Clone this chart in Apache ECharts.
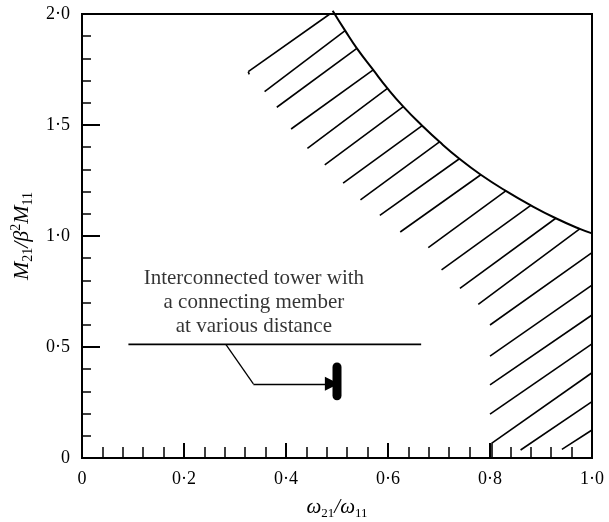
<!DOCTYPE html>
<html>
<head>
<meta charset="utf-8">
<script src="https://cdn.jsdelivr.net/npm/echarts@6/dist/echarts.min.js"></script>
<style>
html,body{margin:0;padding:0;background:#fff;}
#chart{width:609px;height:522px;}
</style>
</head>
<body>
<div id="chart"></div>
<script>
// ---- data ----
const xTickValues = [0, 0.2, 0.4, 0.6, 0.8, 1.0];
const xTickLabels = ['0', '0·2', '0·4', '0·6', '0·8', '1·0'];
const yTickValues = [0, 0.5, 1.0, 1.5, 2.0];
const yTickLabels = ['0', '0·5', '1·0', '1·5', '2·0'];

// boundary curve of the hatched region
const boundaryX = [0.4915, 0.516, 0.539, 0.571, 0.599, 0.630, 0.667, 0.701, 0.740, 0.782, 0.831, 0.880, 0.929, 0.976, 1.0];
const boundaryY = [2.015, 1.925, 1.845, 1.748, 1.665, 1.583, 1.497, 1.424, 1.348, 1.276, 1.203, 1.138, 1.080, 1.032, 1.012];

// hatch segments (from -> to)
const hatchFromX = [0.486, 0.516, 0.539, 0.571, 0.599, 0.630, 0.667, 0.701, 0.740, 0.782, 0.831, 0.880, 0.929, 0.976, 1.0, 1.0, 1.0, 1.0, 1.0, 1.0, 1.0, 0.803, 0.326];
const hatchFromY = [2.000, 1.925, 1.845, 1.748, 1.665, 1.583, 1.497, 1.424, 1.348, 1.276, 1.203, 1.138, 1.080, 1.032, 0.925, 0.779, 0.644, 0.514, 0.384, 0.254, 0.126, 0.066, 1.740];
const hatchToX   = [0.326, 0.358, 0.382, 0.410, 0.442, 0.476, 0.512, 0.546, 0.584, 0.624, 0.679, 0.705, 0.741, 0.777, 0.8, 0.8, 0.8, 0.8, 0.803, 0.860, 0.941, 0.803, 0.328];
const hatchToY   = [1.740, 1.650, 1.580, 1.482, 1.395, 1.320, 1.238, 1.163, 1.093, 1.018, 0.948, 0.847, 0.764, 0.692, 0.599, 0.459, 0.329, 0.198, 0.066, 0.036, 0.039, 0.0, 1.728];

// annotation
const annotationLines = ['Interconnected tower with', 'a connecting member', 'at various distance'];
const annotationPos = [0.337, 0.700];
const underlineX = [0.091, 0.665];
const underlineY = [0.512, 0.512];
const leaderX = [0.282, 0.336, 0.490];
const leaderY = [0.512, 0.334, 0.334];
const memberX = [0.5, 0.5];
const memberY = [0.41, 0.28];

// ---- build ----
const serif = '"Liberation Serif", "DejaVu Serif", serif';
function zip(xs, ys) { return xs.map((x, i) => [x, ys[i]]); }
function tickLabel(vals, labels) {
  return function (v) {
    for (let i = 0; i < vals.length; i++) if (Math.abs(vals[i] - v) < 1e-9) return labels[i];
    return '';
  };
}
const hatchData = hatchFromX.map((x, i) => ({ coords: [[x, hatchFromY[i]], [hatchToX[i], hatchToY[i]]] }));
const leaderPts = zip(leaderX, leaderY);

const chart = echarts.init(document.getElementById('chart'), null, { renderer: 'canvas' });
chart.setOption({
  animation: false,
  backgroundColor: '#fff',
  grid: {
    left: 82, right: 17, top: 14, bottom: 64,
    show: true, borderColor: '#000', borderWidth: 2,
    containLabel: false, outerBoundsMode: 'none'
  },
  xAxis: {
    type: 'value', min: 0, max: 1, interval: 0.2,
    axisLine: { show: true, onZero: false, lineStyle: { color: '#000', width: 2 } },
    axisTick: { show: true, inside: true, length: 15, lineStyle: { color: '#000', width: 2 } },
    minorTick: { show: true, splitNumber: 5, length: 11, lineStyle: { color: '#000', width: 1.5 } },
    splitLine: { show: false },
    axisLabel: { color: '#000', fontFamily: serif, fontSize: 18, margin: 12, formatter: tickLabel(xTickValues, xTickLabels) },
    name: '{i|ω}{s|21}{i|/ω}{s|11}',
    nameLocation: 'middle', nameGap: 36,
    nameTextStyle: {
      color: '#000', fontFamily: serif,
      rich: {
        i: { fontStyle: 'italic', fontSize: 21, fontFamily: serif, color: '#000', lineHeight: 26 },
        s: { fontSize: 13, fontFamily: serif, color: '#000', verticalAlign: 'bottom', lineHeight: 15 }
      }
    }
  },
  yAxis: {
    type: 'value', min: 0, max: 2, interval: 0.5,
    axisLine: { show: true, onZero: false, lineStyle: { color: '#000', width: 2 } },
    axisTick: { show: true, inside: true, length: 18, lineStyle: { color: '#000', width: 2 } },
    minorTick: { show: true, splitNumber: 5, length: 9, lineStyle: { color: '#000', width: 1.5 } },
    splitLine: { show: false },
    axisLabel: { color: '#000', fontFamily: serif, fontSize: 18, margin: 12, formatter: tickLabel(yTickValues, yTickLabels) },
    name: '{i|M}{s|21}{i|/β}{p|2}{i|M}{s|11}',
    nameLocation: 'middle', nameGap: 42, nameRotate: 90,
    nameTextStyle: {
      color: '#000', fontFamily: serif,
      rich: {
        i: { fontStyle: 'italic', fontSize: 22, fontFamily: serif, color: '#000', lineHeight: 26 },
        s: { fontSize: 14, fontFamily: serif, color: '#000', verticalAlign: 'bottom', lineHeight: 15 },
        p: { fontSize: 14, fontFamily: serif, color: '#000', verticalAlign: 'top', lineHeight: 15 }
      }
    }
  },
  series: [
    {
      type: 'line', name: 'boundary', data: zip(boundaryX, boundaryY),
      smooth: 0.5, symbol: 'none', clip: false,
      lineStyle: { color: '#000', width: 2 }
    },
    {
      type: 'lines', coordinateSystem: 'cartesian2d', data: hatchData,
      symbol: 'none', lineStyle: { color: '#000', width: 1.6, opacity: 1 }
    },
    {
      type: 'line', data: zip(underlineX, underlineY), symbol: 'none',
      lineStyle: { color: '#000', width: 1.6 }
    },
    {
      type: 'lines', coordinateSystem: 'cartesian2d',
      data: [{ coords: [leaderPts[0], leaderPts[1]] }],
      symbol: 'none',
      lineStyle: { color: '#000', width: 1.3, opacity: 1 }
    },
    {
      type: 'lines', coordinateSystem: 'cartesian2d',
      data: [{ coords: [leaderPts[1], leaderPts[2]] }],
      symbol: ['none', 'triangle'], symbolSize: [7, 14],
      lineStyle: { color: '#000', width: 1.3, opacity: 1 }
    },
    {
      type: 'line', data: zip(memberX, memberY), symbol: 'none',
      lineStyle: { color: '#000', width: 9, cap: 'round' }
    },
    {
      type: 'scatter', data: [annotationPos], symbolSize: 0, silent: true,
      label: {
        show: true, position: 'inside', color: '#000', fontFamily: serif, fontSize: 21,
        lineHeight: 24, align: 'center', verticalAlign: 'middle',
        formatter: function () { return annotationLines.join('\n'); }
      }
    }
  ]
});
</script>
</body>
</html>
